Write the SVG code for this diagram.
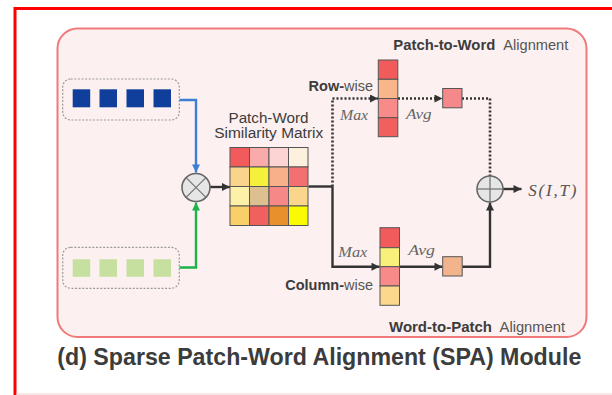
<svg xmlns="http://www.w3.org/2000/svg" width="612" height="395" viewBox="0 0 612 395">
<style>
.lbl{font-family:"Liberation Sans",Arial,sans-serif;fill:#3c3c3c}
.b{font-weight:bold}
.reg{fill:#555}
.math{font-family:"Liberation Serif","Times New Roman",serif;font-style:italic;fill:#666;font-size:15px}
.cell{stroke:#555;stroke-width:1}
.dash{fill:none;stroke:#9a9a9a;stroke-width:1.2;stroke-dasharray:2 1.6}
.ln{fill:none;stroke:#333;stroke-width:2.4}
.dot{fill:none;stroke:#333;stroke-width:2.6;stroke-dasharray:2 2}
.op{fill:#e6e6e6;stroke:#666;stroke-width:1.6}
.opl{stroke:#777;stroke-width:1.3}
</style>
<defs>
<marker id="ad" viewBox="0 0 10 10" refX="10" refY="5" markerWidth="9" markerHeight="8" markerUnits="userSpaceOnUse" orient="auto"><path d="M0,0 L10,5 L0,10 z" fill="#333"/></marker>
<marker id="ab" viewBox="0 0 10 10" refX="10" refY="5" markerWidth="9" markerHeight="8" markerUnits="userSpaceOnUse" orient="auto"><path d="M0,0 L10,5 L0,10 z" fill="#3a7fd5"/></marker>
<marker id="ag" viewBox="0 0 10 10" refX="10" refY="5" markerWidth="9" markerHeight="8" markerUnits="userSpaceOnUse" orient="auto"><path d="M0,0 L10,5 L0,10 z" fill="#1db34a"/></marker>
</defs>
<rect width="612" height="395" fill="#fff"/>
<rect x="15" y="8.5" width="620" height="400" fill="none" stroke="#ff0000" stroke-width="3"/>
<line x1="16" y1="394" x2="612" y2="394" stroke="#f4cccc" stroke-width="1"/>
<g id="module">
<rect x="57.5" y="28.5" width="529" height="308.5" rx="20" fill="#fcf0f0" stroke="#f07a7a" stroke-width="2"/>
</g>
<g id="image-tokens">
<rect class="dash" x="62.7" y="79" width="116.6" height="41" rx="8"/>
<rect x="72.7" y="89.3" width="17.5" height="18" fill="#0f3f9b"/>
<rect x="99.5" y="89.3" width="17.5" height="18" fill="#0f3f9b"/>
<rect x="126.5" y="89.3" width="17.5" height="18" fill="#0f3f9b"/>
<rect x="153.5" y="89.3" width="17.5" height="18" fill="#0f3f9b"/>
</g>
<g id="text-tokens">
<rect class="dash" x="62.7" y="247.3" width="116.6" height="41" rx="8"/>
<rect x="72.7" y="259.3" width="17.5" height="17.5" fill="#c6e0a0"/>
<rect x="99.5" y="259.3" width="17.5" height="17.5" fill="#c6e0a0"/>
<rect x="126.5" y="259.3" width="17.5" height="17.5" fill="#c6e0a0"/>
<rect x="153.5" y="259.3" width="17.5" height="17.5" fill="#c6e0a0"/>
</g>
<g id="connectors">
<path d="M179.5,100 H196 V172.5" fill="none" stroke="#3a7fd5" stroke-width="2.4" marker-end="url(#ab)"/>
<path d="M179.5,267.5 H196 V202.5" fill="none" stroke="#1db34a" stroke-width="2.4" marker-end="url(#ag)"/>
<path class="ln" d="M210,187 H230" marker-end="url(#ad)"/>
<path class="ln" d="M308.5,186.5 H332.5"/>
<path class="dot" d="M332.5,186.5 V98.5 H378" marker-end="url(#ad)"/>
<path class="ln" d="M332.5,186.5 V266.7 H379.5" marker-end="url(#ad)"/>
<path class="dot" d="M398,98.5 H442.5" marker-end="url(#ad)"/>
<path class="dot" d="M462,98.5 H490 V176"/>
<path class="ln" d="M399.5,266.7 H442.5" marker-end="url(#ad)"/>
<path class="ln" d="M462.3,266.7 H490 V202.5" marker-end="url(#ad)"/>
<path class="ln" d="M503,189 H521.5" marker-end="url(#ad)"/>
</g>
<g id="multiply">
<circle class="op" cx="196" cy="187.5" r="14"/>
<line class="opl" x1="186.1" y1="177.6" x2="205.9" y2="197.4"/>
<line class="opl" x1="205.9" y1="177.6" x2="186.1" y2="197.4"/>
</g>
<g id="similarity-matrix">
<text class="lbl" font-size="14" x="268.5" y="122.8" text-anchor="middle" textLength="80" lengthAdjust="spacingAndGlyphs">Patch-Word</text>
<text class="lbl" font-size="14" x="268.7" y="138.3" text-anchor="middle" textLength="109" lengthAdjust="spacingAndGlyphs">Similarity Matrix</text>
<rect class="cell" x="230" y="147.5" width="19.5" height="19.5" fill="#f25b5b"/>
<rect class="cell" x="249.5" y="147.5" width="19.5" height="19.5" fill="#f9aaaa"/>
<rect class="cell" x="269" y="147.5" width="19.5" height="19.5" fill="#fdd4d4"/>
<rect class="cell" x="288.5" y="147.5" width="19.5" height="19.5" fill="#fdf0dc"/>
<rect class="cell" x="230" y="167" width="19.5" height="19.5" fill="#fad48c"/>
<rect class="cell" x="249.5" y="167" width="19.5" height="19.5" fill="#f5f03c"/>
<rect class="cell" x="269" y="167" width="19.5" height="19.5" fill="#f7b08a"/>
<rect class="cell" x="288.5" y="167" width="19.5" height="19.5" fill="#f47070"/>
<rect class="cell" x="230" y="186.5" width="19.5" height="19.5" fill="#fdf0a8"/>
<rect class="cell" x="249.5" y="186.5" width="19.5" height="19.5" fill="#dcc090"/>
<rect class="cell" x="269" y="186.5" width="19.5" height="19.5" fill="#f78888"/>
<rect class="cell" x="288.5" y="186.5" width="19.5" height="19.5" fill="#fad68c"/>
<rect class="cell" x="230" y="206" width="19.5" height="19.5" fill="#f9cf6a"/>
<rect class="cell" x="249.5" y="206" width="19.5" height="19.5" fill="#f25f5f"/>
<rect class="cell" x="269" y="206" width="19.5" height="19.5" fill="#e8902c"/>
<rect class="cell" x="288.5" y="206" width="19.5" height="19.5" fill="#fafa00"/>
</g>
<g id="patch-to-word">
<text class="lbl b" font-size="14.5" x="393.3" y="50" textLength="102" lengthAdjust="spacingAndGlyphs">Patch-to-Word</text>
<text class="lbl reg" font-size="14.5" x="503.3" y="50" textLength="65" lengthAdjust="spacingAndGlyphs">Alignment</text>
<text class="lbl" font-size="14.5" x="373" y="90.7" text-anchor="end"><tspan class="b">Row-</tspan><tspan class="reg">wise</tspan></text>
<rect class="cell" x="378.3" y="60" width="19.5" height="19.3" fill="#f25b5b"/>
<rect class="cell" x="378.3" y="79.3" width="19.5" height="19.2" fill="#f9b68a"/>
<rect class="cell" x="378.3" y="98.5" width="19.5" height="19.2" fill="#f98a8a"/>
<rect class="cell" x="378.3" y="117.7" width="19.5" height="19" fill="#f25f5f"/>
<text class="math" x="340" y="120" textLength="28" lengthAdjust="spacingAndGlyphs">Max</text>
<text class="math" x="406" y="119.3" textLength="25.7" lengthAdjust="spacingAndGlyphs">Avg</text>
<rect class="cell" x="442.7" y="88.5" width="19.3" height="19.3" fill="#f4888a"/>
</g>
<g id="word-to-patch">
<text class="lbl b" font-size="14.5" x="389" y="332" textLength="103" lengthAdjust="spacingAndGlyphs">Word-to-Patch</text>
<text class="lbl reg" font-size="14.5" x="499.6" y="332" textLength="65.4" lengthAdjust="spacingAndGlyphs">Alignment</text>
<text class="lbl" font-size="14.5" x="373" y="290" text-anchor="end"><tspan class="b">Column-</tspan><tspan class="reg">wise</tspan></text>
<rect class="cell" x="380" y="227.7" width="19.5" height="20" fill="#f25b5b"/>
<rect class="cell" x="380" y="247.7" width="19.5" height="19" fill="#f8f07a"/>
<rect class="cell" x="380" y="266.7" width="19.5" height="19.3" fill="#f98a8a"/>
<rect class="cell" x="380" y="286" width="19.5" height="19.3" fill="#fbd88c"/>
<text class="math" x="338.3" y="256.7" textLength="29" lengthAdjust="spacingAndGlyphs">Max</text>
<text class="math" x="408.3" y="255" textLength="26.7" lengthAdjust="spacingAndGlyphs">Avg</text>
<rect class="cell" x="442.7" y="256.7" width="19.5" height="19.3" fill="#f2b48c"/>
</g>
<g id="sum">
<circle class="op" cx="490" cy="189" r="13"/>
<line class="opl" x1="477" y1="189" x2="503" y2="189"/>
<line class="opl" x1="490" y1="176" x2="490" y2="202"/>
</g>
<g id="output">
<text class="math" style="font-size:17px;fill:#555" x="528.3" y="195.5" textLength="48" lengthAdjust="spacing">S(I,T)</text>
</g>
<g id="title">
<text class="lbl b" font-size="23" x="57.3" y="364.5" fill="#333" textLength="524" lengthAdjust="spacingAndGlyphs">(d) Sparse Patch-Word Alignment (SPA) Module</text>
</g>
</svg>
